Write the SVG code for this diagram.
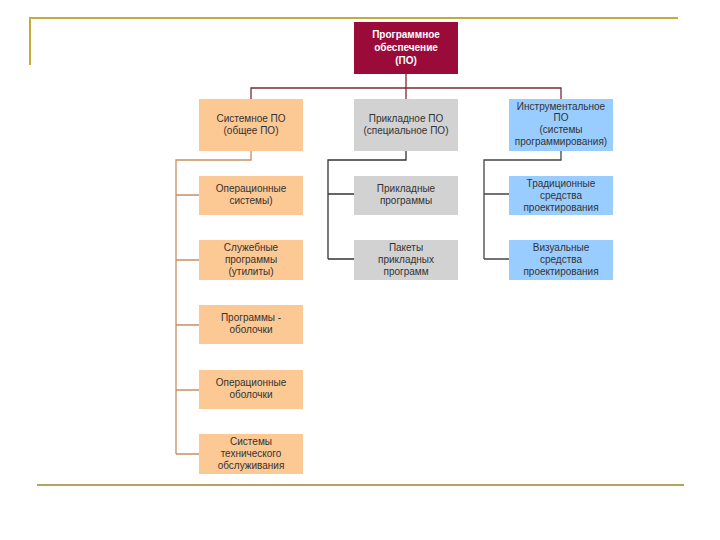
<svg xmlns="http://www.w3.org/2000/svg" width="720" height="540" viewBox="0 0 720 540">
<style>
text{font-family:"Liberation Sans",Arial,sans-serif;font-size:10px;fill:#333;text-anchor:middle}
.root text{fill:#fff;font-weight:bold}
.o{fill:#fcc894}.g{fill:#d2d2d2}.b{fill:#99ccff}
.c{fill:none;stroke-width:1.3}
</style>
<rect width="720" height="540" fill="#fff"/>
<g id="frame" fill="none">
<path d="M30 65 V18 H678" stroke="#c4ac3c" stroke-width="2"/>
<line x1="37" y1="485" x2="684" y2="485" stroke="#b8a060" stroke-width="2"/>
</g>
<g id="connectors">
<path class="c" stroke="#7a2a38" d="M406 74 V88 M251 99 V88 H561 V99 M406 88 V99"/>
<path class="c" stroke="#c49060" d="M251 151 V160 H176 V454 M176 195 H199 M176 260 H199 M176 325 H199 M176 390 H199 M176 454 H199"/>
<path class="c" stroke="#333" d="M406 151 V160 H328 V259 M328 194 H354 M328 259 H354"/>
<path class="c" stroke="#444" d="M561 151 V160 H484 V259 M484 194 H509 M484 259 H509"/>
</g>
<g id="root" class="root">
<rect x="354" y="22" width="104" height="52" fill="#9b0b3a"/>
<text x="406" y="38">Программное</text>
<text x="406" y="51">обеспечение</text>
<text x="406" y="64">(ПО)</text>
</g>
<g id="system">
<rect class="o" x="199" y="99" width="104" height="52"/>
<text x="251" y="122">Системное ПО</text>
<text x="251" y="134">(общее ПО)</text>
</g>
<g id="applied">
<rect class="g" x="354" y="99" width="104" height="52"/>
<text x="406" y="122">Прикладное ПО</text>
<text x="406" y="134">(специальное ПО)</text>
</g>
<g id="tools">
<rect class="b" x="509" y="99" width="104" height="52"/>
<text x="561" y="110">Инструментальное</text>
<text x="561" y="121">ПО</text>
<text x="561" y="133">(системы</text>
<text x="561" y="145">программирования)</text>
</g>
<g id="os">
<rect class="o" x="199" y="176" width="104" height="39"/>
<text x="251" y="192">Операционные</text>
<text x="251" y="204">системы)</text>
</g>
<g id="utilities">
<rect class="o" x="199" y="240" width="104" height="40"/>
<text x="251" y="251">Служебные</text>
<text x="251" y="263">программы</text>
<text x="251" y="275">(утилиты)</text>
</g>
<g id="shells">
<rect class="o" x="199" y="305" width="104" height="39"/>
<text x="251" y="321">Программы -</text>
<text x="251" y="333">оболочки</text>
</g>
<g id="osshells">
<rect class="o" x="199" y="370" width="104" height="39"/>
<text x="251" y="386">Операционные</text>
<text x="251" y="398">оболочки</text>
</g>
<g id="maintenance">
<rect class="o" x="199" y="434" width="104" height="40"/>
<text x="251" y="445">Системы</text>
<text x="251" y="457">технического</text>
<text x="251" y="469">обслуживания</text>
</g>
<g id="appprogs">
<rect class="g" x="354" y="176" width="104" height="39"/>
<text x="406" y="192">Прикладные</text>
<text x="406" y="204">программы</text>
</g>
<g id="packages">
<rect class="g" x="354" y="240" width="104" height="40"/>
<text x="406" y="251">Пакеты</text>
<text x="406" y="263">прикладных</text>
<text x="406" y="275">программ</text>
</g>
<g id="traditional">
<rect class="b" x="509" y="176" width="104" height="39"/>
<text x="561" y="187">Традиционные</text>
<text x="561" y="199">средства</text>
<text x="561" y="211">проектирования</text>
</g>
<g id="visual">
<rect class="b" x="509" y="240" width="104" height="40"/>
<text x="561" y="251">Визуальные</text>
<text x="561" y="263">средства</text>
<text x="561" y="275">проектирования</text>
</g>
</svg>
